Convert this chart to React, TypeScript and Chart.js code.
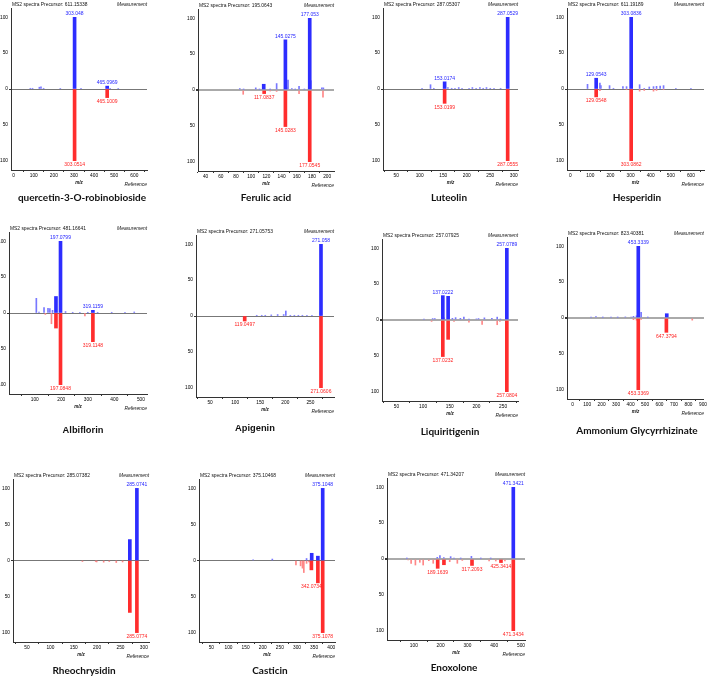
import React, { useEffect, useRef } from "react";
import { Chart, registerables } from "chart.js";
Chart.register(...registerables);

type Peak = [number, number, number?]; // m/z, relative intensity, labelled flag

const yTicks = [-100, -50, 0, 50, 100];
const Y_LIMIT = 113;

// ---- Panel 1: quercetin-3-O-robinobioside
const p1Name = "quercetin-3-O-robinobioside";
const p1Precursor = "611.15338";
const p1XTicks = [0, 100, 200, 300, 400, 500, 600];
const p1MeasMain: Peak[] = [[303.048, 100, 1], [465.0969, 4, 1]];
const p1MeasMinor: Peak[] = [[83, 1], [94, 1], [128, 2.5], [136, 3], [149, 1], [232, 0.8], [335, 0.8], [480, 0.8], [520, 0.8]];
const p1RefMain: Peak[] = [[303.0514, -100, 1], [465.1009, -12, 1]];
const p1RefMinor: Peak[] = [];

// ---- Panel 2: Ferulic acid
const p2Name = "Ferulic acid";
const p2Precursor = "195.0643";
const p2XTicks = [40, 60, 80, 100, 120, 140, 160, 180, 200];
const p2MeasMain: Peak[] = [[177.053, 100, 1], [145.0275, 70, 1], [116.5, 8]];
const p2MeasMinor: Peak[] = [[85, 2], [90, 1], [106, 3], [111, 1], [125, 1], [133.5, 9], [147, 4], [148.5, 14], [153.5, 2], [158, 1], [163, 5], [170, 1], [178.5, 13], [193, 3], [195, 3]];
const p2RefMain: Peak[] = [[177.0545, -100, 1], [145.0283, -51, 1], [117.0837, -5, 1]];
const p2RefMinor: Peak[] = [[89.5, -6], [125, -1], [133.5, -2], [163, -5], [194.5, -10]];

// ---- Panel 3: Luteolin
const p3Name = "Luteolin";
const p3Precursor = "287.05307";
const p3XTicks = [50, 100, 150, 200, 250, 300];
const p3MeasMain: Peak[] = [[287.0529, 100, 1], [153.0174, 10, 1]];
const p3MeasMinor: Peak[] = [[105, 1], [123, 6], [130, 1], [160, 2], [168, 1], [175, 1], [183, 2], [190, 1], [205, 1], [212, 2], [220, 1], [228, 2], [235, 1], [242, 2], [250, 1], [258, 1], [272, 1]];
const p3RefMain: Peak[] = [[287.0555, -100, 1], [153.0199, -20, 1]];
const p3RefMinor: Peak[] = [];

// ---- Panel 4: Hesperidin
const p4Name = "Hesperidin";
const p4Precursor = "611.19189";
const p4XTicks = [0, 100, 200, 300, 400, 500, 600];
const p4MeasMain: Peak[] = [[303.0836, 100, 1], [129.0543, 15, 1]];
const p4MeasMinor: Peak[] = [[86, 6.5], [147.5, 8.4], [152.5, 4.7], [195.5, 4.7], [215, 1], [262, 3.3], [280, 3.3], [345, 6], [368, 1], [393, 2.8], [414, 3.3], [429, 3.7], [447, 4.2], [464, 4.7], [525, 1], [600, 1]];
const p4RefMain: Peak[] = [[303.0862, -100, 1], [129.0548, -11, 1]];
const p4RefMinor: Peak[] = [[147.5, -2.3], [280, -1], [345, -3], [368, -2], [414, -3], [429, -2], [464, -1]];

// ---- Panel 5: Albiflorin
const p5Name = "Albiflorin";
const p5Precursor = "481.16641";
const p5XTicks = [100, 200, 300, 400, 500];
const p5MeasMain: Peak[] = [[197.0799, 100, 1], [319.1159, 3.7, 1], [180, 23]];
const p5MeasMinor: Peak[] = [[106, 20.5], [116, 1.4], [135, 7.4], [150, 6.5], [157, 6], [167, 3.7], [216, 2], [243, 1], [270, 1], [300, 1], [337, 1], [390, 1], [440, 1], [475, 1.4]];
const p5RefMain: Peak[] = [[197.0848, -100, 1], [319.1148, -40, 1], [180, -21]];
const p5RefMinor: Peak[] = [[163, -15], [289, -4], [140, -2]];

// ---- Panel 6: Apigenin
const p6Name = "Apigenin";
const p6Precursor = "271.05753";
const p6XTicks = [50, 100, 150, 200, 250];
const p6MeasMain: Peak[] = [[271.058, 100, 1]];
const p6MeasMinor: Peak[] = [[143, 1], [153, 1], [160, 1], [172, 1.5], [184.7, 2], [196.7, 2], [201, 7], [210, 1], [218, 1], [226, 1], [234, 1], [243, 1], [253, 1], [270, 5.6]];
const p6RefMain: Peak[] = [[271.0606, -100, 1], [119.0497, -7, 1]];
const p6RefMinor: Peak[] = [];

// ---- Panel 7: Liquiritigenin
const p7Name = "Liquiritigenin";
const p7Precursor = "257.07925";
const p7XTicks = [50, 100, 150, 200, 250];
const p7MeasMain: Peak[] = [[257.0789, 100, 1], [137.0222, 34, 1], [147, 33]];
const p7MeasMinor: Peak[] = [[101.7, 1], [118, 2], [122, 2], [139, 3], [155, 2.3], [161, 3.3], [170, 2.3], [176.5, 4], [186, 1], [200, 1.5], [204, 2], [215, 3], [229, 2.3], [239, 4], [245, 1]];
const p7RefMain: Peak[] = [[257.0804, -100, 1], [137.0232, -51, 1], [147, -27]];
const p7RefMinor: Peak[] = [[116, -2], [158, -2], [186, -3], [210.7, -6], [239, -6.6], [244, -2]];

// ---- Panel 8: Ammonium Glycyrrhizinate
const p8Name = "Ammonium Glycyrrhizinate";
const p8Precursor = "823.40381";
const p8XTicks = [0, 100, 200, 300, 400, 500, 600, 700, 800, 900];
const p8MeasMain: Peak[] = [[453.3339, 100, 1], [650, 6]];
const p8MeasMinor: Peak[] = [[127, 1], [161, 2], [208, 1], [265, 1], [311, 1], [364, 1.5], [404, 1.4], [420, 2.3], [441, 3], [473, 8], [519, 1]];
const p8RefMain: Peak[] = [[453.3369, -100, 1], [647.3794, -20, 1]];
const p8RefMinor: Peak[] = [[420, -2.3], [441, -3], [473, -2], [826, -3]];

// ---- Panel 9: Rheochrysidin
const p9Name = "Rheochrysidin";
const p9Precursor = "285.07382";
const p9XTicks = [50, 100, 150, 200, 250, 300];
const p9MeasMain: Peak[] = [[285.0741, 100, 1], [270, 29]];
const p9MeasMinor: Peak[] = [];
const p9RefMain: Peak[] = [[285.0774, -100, 1], [270, -72]];
const p9RefMinor: Peak[] = [[168.6, -1.4], [197, -1.4], [199, -2], [214, -2.3], [226, -1.4], [241, -2.8], [254.5, -2]];

// ---- Panel 10: Casticin
const p10Name = "Casticin";
const p10Precursor = "375.10468";
const p10XTicks = [50, 100, 150, 200, 250, 300, 350, 400];
const p10MeasMain: Peak[] = [[375.1048, 100, 1], [343, 10], [361, 6]];
const p10MeasMinor: Peak[] = [[172, 1], [228, 2], [328, 2.8], [340, 1.4]];
const p10RefMain: Peak[] = [[375.1078, -100, 1], [342.0734, -13, 1], [361, -31]];
const p10RefMinor: Peak[] = [[297, -6], [310.5, -7.4], [316, -10.6], [320, -16.7], [328, -4], [335, -2]];

// ---- Panel 11: Enoxolone
const p11Name = "Enoxolone";
const p11Precursor = "471.34207";
const p11XTicks = [100, 200, 300, 400, 500];
const p11MeasMain: Peak[] = [[471.3421, 100, 1]];
const p11MeasMinor: Peak[] = [[74, 1], [187.5, 2.3], [197.5, 4.6], [212, 2], [237.5, 3.3], [250, 1], [275, 1], [315, 3.7], [350, 1], [387, 1]];
const p11RefMain: Peak[] = [[471.3434, -100, 1], [189.1639, -13, 1], [317.2093, -9, 1], [425.3414, -5, 1], [212.5, -8]];
const p11RefMinor: Peak[] = [[79, -1.4], [90, -6], [106, -8.4], [122.5, -4.6], [135, -8.4], [156, -2.3], [172.5, -6], [234, -3.7], [262.5, -6], [281, -2], [381, -2.8], [406, -2.8], [440, -2.8]];

interface PanelData {
  name: string; precursor: string; xTicks: number[];
  measMain: Peak[]; measMinor: Peak[]; refMain: Peak[]; refMinor: Peak[];
}

const panelData: PanelData[] = [
  { name: p1Name, precursor: p1Precursor, xTicks: p1XTicks, measMain: p1MeasMain, measMinor: p1MeasMinor, refMain: p1RefMain, refMinor: p1RefMinor },
  { name: p2Name, precursor: p2Precursor, xTicks: p2XTicks, measMain: p2MeasMain, measMinor: p2MeasMinor, refMain: p2RefMain, refMinor: p2RefMinor },
  { name: p3Name, precursor: p3Precursor, xTicks: p3XTicks, measMain: p3MeasMain, measMinor: p3MeasMinor, refMain: p3RefMain, refMinor: p3RefMinor },
  { name: p4Name, precursor: p4Precursor, xTicks: p4XTicks, measMain: p4MeasMain, measMinor: p4MeasMinor, refMain: p4RefMain, refMinor: p4RefMinor },
  { name: p5Name, precursor: p5Precursor, xTicks: p5XTicks, measMain: p5MeasMain, measMinor: p5MeasMinor, refMain: p5RefMain, refMinor: p5RefMinor },
  { name: p6Name, precursor: p6Precursor, xTicks: p6XTicks, measMain: p6MeasMain, measMinor: p6MeasMinor, refMain: p6RefMain, refMinor: p6RefMinor },
  { name: p7Name, precursor: p7Precursor, xTicks: p7XTicks, measMain: p7MeasMain, measMinor: p7MeasMinor, refMain: p7RefMain, refMinor: p7RefMinor },
  { name: p8Name, precursor: p8Precursor, xTicks: p8XTicks, measMain: p8MeasMain, measMinor: p8MeasMinor, refMain: p8RefMain, refMinor: p8RefMinor },
  { name: p9Name, precursor: p9Precursor, xTicks: p9XTicks, measMain: p9MeasMain, measMinor: p9MeasMinor, refMain: p9RefMain, refMinor: p9RefMinor },
  { name: p10Name, precursor: p10Precursor, xTicks: p10XTicks, measMain: p10MeasMain, measMinor: p10MeasMinor, refMain: p10RefMain, refMinor: p10RefMinor },
  { name: p11Name, precursor: p11Precursor, xTicks: p11XTicks, measMain: p11MeasMain, measMinor: p11MeasMinor, refMain: p11RefMain, refMinor: p11RefMinor },
];

// ---- Layout (page pixel geometry of each plot area) — kept apart from data
interface Layout {
  left: number; right: number; zero: number; s: number;
  xmin: number; xmax: number; nameX: number; nameY: number;
  zeroW: number; nameFont: string;
}
const CAL = "Lato, 'Open Sans', sans-serif";
const ARI = "'Liberation Sans', Arial, sans-serif";
const layouts: Layout[] = [
  { left: 11, right: 147, zero: 88.7, s: 0.716, xmin: -13, xmax: 663, nameX: 82, nameY: 197, zeroW: 1, nameFont: CAL },
  { left: 198, right: 334, zero: 90, s: 0.717, xmin: 30, xmax: 209, nameX: 266, nameY: 197, zeroW: 2, nameFont: CAL },
  { left: 383, right: 518, zero: 88.7, s: 0.716, xmin: 22, xmax: 309, nameX: 449, nameY: 197, zeroW: 1, nameFont: CAL },
  { left: 567, right: 704, zero: 88.7, s: 0.716, xmin: -16, xmax: 665, nameX: 637, nameY: 197, zeroW: 1, nameFont: CAL },
  { left: 9, right: 147, zero: 313.3, s: 0.718, xmin: 3, xmax: 523, nameX: 83, nameY: 431, zeroW: 1, nameFont: ARI },
  { left: 196, right: 334, zero: 315.7, s: 0.7165, xmin: 22, xmax: 297, nameX: 255, nameY: 429, zeroW: 1, nameFont: ARI },
  { left: 382, right: 518, zero: 319.7, s: 0.715, xmin: 23, xmax: 278, nameX: 450, nameY: 431, zeroW: 2, nameFont: CAL },
  { left: 567, right: 704, zero: 318, s: 0.7165, xmin: -39, xmax: 907, nameX: 637, nameY: 430, zeroW: 2, nameFont: CAL },
  { left: 13, right: 149, zero: 560.7, s: 0.72, xmin: 20, xmax: 311, nameX: 84, nameY: 670, zeroW: 1, nameFont: CAL },
  { left: 199, right: 335, zero: 560.7, s: 0.72, xmin: 14, xmax: 411, nameX: 270, nameY: 670, zeroW: 1, nameFont: CAL },
  { left: 387, right: 525, zero: 559, s: 0.717, xmin: 0, xmax: 515, nameX: 454, nameY: 667, zeroW: 2, nameFont: CAL },
];

const BLUE = "rgb(45,45,255)";
const RED = "rgb(255,45,45)";
const LBLUE = "rgb(120,120,255)";
const LRED = "rgb(255,135,135)";
const TXT_BLUE = "rgb(30,30,255)";
const TXT_RED = "rgb(255,30,30)";
const SMALL = "'Liberation Sans', Arial, sans-serif";

const PADL = 14, PADT = 9, PADR = 4, PADB = 22;

function geom(l: Layout) {
  const plotTop = Math.round(l.zero - Y_LIMIT * l.s);
  const plotH = Math.round(2 * Y_LIMIT * l.s);
  const plotW = l.right - l.left;
  return {
    left: l.left - PADL, top: plotTop - PADT,
    width: plotW + PADL + PADR, height: plotH + PADT + PADB,
  };
}

function annotPlugin(p: PanelData) {
  return {
    id: "annot",
    afterDraw(chart: any) {
      const { ctx, chartArea: ca, scales } = chart;
      const xs = scales.x, ys = scales.y;
      ctx.save();
      ctx.fillStyle = "#111";
      ctx.font = `4.9px ${SMALL}`;
      ctx.textBaseline = "alphabetic";
      ctx.textAlign = "left";
      ctx.fillText(`MS2 spectra Precursor: ${p.precursor}`, ca.left + 1, ca.top - 2);
      ctx.font = `italic 4.9px ${SMALL}`;
      ctx.textAlign = "right";
      ctx.fillText("Measurement", ca.right, ca.top - 2);
      ctx.font = `bold italic 4.6px ${SMALL}`;
      ctx.textAlign = "center";
      ctx.fillText("m/z", (ca.left + ca.right) / 2, ca.bottom + 14);
      ctx.font = `italic 4.9px ${SMALL}`;
      ctx.textAlign = "right";
      ctx.fillText("Reference", ca.right, ca.bottom + 16);

      ctx.font = `5px ${SMALL}`;
      ctx.textAlign = "center";
      const allMeas = [...p.measMain, ...p.measMinor];
      const allRef = [...p.refMain, ...p.refMinor];
      for (const pk of p.measMain) {
        if (!pk[2]) continue;
        const label = String(pk[0]);
        const px = xs.getPixelForValue(pk[0]);
        const hw = ctx.measureText(label).width / 2 - 1;
        let top = pk[1];
        for (const q of allMeas) {
          if (Math.abs(xs.getPixelForValue(q[0]) - px) <= hw && q[1] > top) top = q[1];
        }
        ctx.fillStyle = TXT_BLUE;
        ctx.textBaseline = "bottom";
        ctx.fillText(label, px, ys.getPixelForValue(top) - 1);
      }
      for (const pk of p.refMain) {
        if (!pk[2]) continue;
        const label = String(pk[0]);
        const px = xs.getPixelForValue(pk[0]);
        const hw = ctx.measureText(label).width / 2 - 1;
        let bot = pk[1];
        for (const q of allRef) {
          if (Math.abs(xs.getPixelForValue(q[0]) - px) <= hw && q[1] < bot) bot = q[1];
        }
        ctx.fillStyle = TXT_RED;
        ctx.textBaseline = "top";
        ctx.fillText(label, px, ys.getPixelForValue(bot) + 1.5);
      }
      ctx.restore();
    },
  };
}

function toXY(arr: Peak[]) {
  return arr.map((p) => ({ x: p[0], y: p[1] }));
}

function Panel({ p, l }: { p: PanelData; l: Layout }) {
  const ref = useRef<HTMLCanvasElement>(null);
  const g = geom(l);
  useEffect(() => {
    const canvas = ref.current!;
    const tickFont = { size: 4.8, family: SMALL };
    const chart = new Chart(canvas, {
      type: "bar",
      data: {
        datasets: [
          { data: toXY(p.measMain), backgroundColor: BLUE, barThickness: 3, grouped: false, order: 1 } as any,
          { data: toXY(p.refMain), backgroundColor: RED, barThickness: 3, grouped: false, order: 2 } as any,
          { data: toXY(p.measMinor), backgroundColor: LBLUE, barThickness: 1, grouped: false, order: 3 } as any,
          { data: toXY(p.refMinor), backgroundColor: LRED, barThickness: 1, grouped: false, order: 4 } as any,
        ],
      },
      options: {
        responsive: false,
        animation: false,
        devicePixelRatio: 1,
        layout: { padding: { left: 0, top: PADT, right: PADR, bottom: 0 } },
        plugins: { legend: { display: false }, tooltip: { enabled: false }, title: { display: false } },
        scales: {
          x: {
            type: "linear",
            min: l.xmin,
            max: l.xmax,
            offset: false,
            grid: { drawOnChartArea: false, drawTicks: true, tickLength: 2, tickColor: "#333" },
            border: { display: true, color: "#333", width: 1 },
            ticks: { font: tickFont, color: "#000", padding: 1, maxRotation: 0, autoSkip: false },
            afterBuildTicks: (s: any) => { s.ticks = p.xTicks.map((v) => ({ value: v })); },
            afterFit: (s: any) => { s.height = PADB; },
          },
          y: {
            min: -Y_LIMIT,
            max: Y_LIMIT,
            grid: {
              color: (c: any) => (c.tick && c.tick.value === 0 ? (l.zeroW > 1 ? "#aaa" : "#777") : "rgba(0,0,0,0)"),
              lineWidth: (c: any) => (c.tick && c.tick.value === 0 ? l.zeroW : 0),
              drawTicks: true, tickLength: 2, tickColor: "#333",
            },
            border: { display: true, color: "#333", width: 1 },
            ticks: { font: tickFont, color: "#000", padding: 1, callback: (v: any) => String(Math.abs(Number(v))) },
            afterBuildTicks: (s: any) => { s.ticks = yTicks.map((v) => ({ value: v })); },
            afterFit: (s: any) => { s.width = PADL; },
          },
        },
      } as any,
      plugins: [annotPlugin(p)],
    });
    return () => chart.destroy();
  }, []);
  return (
    <>
      <canvas
        ref={ref}
        width={g.width}
        height={g.height}
        style={{ position: "absolute", left: g.left, top: g.top, width: g.width, height: g.height }}
      />
      <div
        style={{
          position: "absolute", left: l.nameX, top: l.nameY, transform: "translate(-50%, -50%)",
          whiteSpace: "nowrap", fontFamily: l.nameFont, fontWeight: 700,
          fontSize: l.nameFont === ARI ? 9.3 : 10, color: "#111", lineHeight: 1,
        }}
      >
        {p.name}
      </div>
    </>
  );
}

export default function App() {
  return (
    <div style={{ position: "absolute", left: 0, top: 0, width: 708, height: 677, background: "#fff", overflow: "hidden" }}>
      {panelData.map((p, i) => (
        <Panel key={i} p={p} l={layouts[i]} />
      ))}
    </div>
  );
}
